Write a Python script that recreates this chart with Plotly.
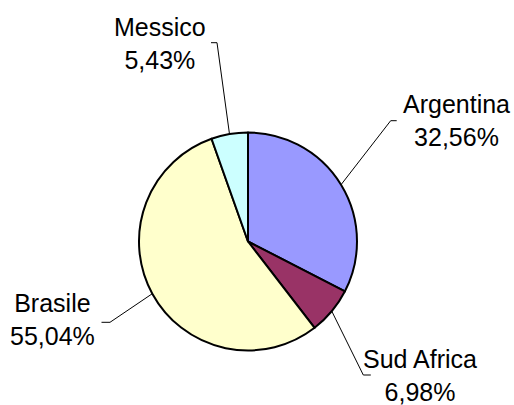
import math
import plotly.graph_objects as go

# ---- data ----
countries = ["Argentina", "Sud Africa", "Brasile", "Messico"]
shares = [32.56, 6.98, 55.04, 5.43]
colors = ["#9999FF", "#993366", "#FFFFCC", "#CCFFFF"]

# ---- layout constants (pixels) ----
W, H = 514, 405
CX, CY, R = 248, 241.5, 109
# elbow of leader line (inner end of the short horizontal tick), tick length, text centre
label_layout = {
    "Argentina": {"elbow": (390.7, 120.7), "tick": 6, "text": (456, 120)},
    "Sud Africa": {"elbow": (363.3, 375), "tick": 7.5, "text": (420, 375)},
    "Brasile": {"elbow": (110, 322.3), "tick": -8.5, "text": (52, 319)},
    "Messico": {"elbow": (217, 42.7), "tick": -6, "text": (160, 43.5)},
}

def px(x):
    return x / W

def py(y):
    return 1 - y / H

fig = go.Figure(go.Pie(
    labels=countries,
    values=shares,
    sort=False,
    direction="clockwise",
    rotation=0,
    marker=dict(colors=colors, line=dict(color="black", width=2)),
    textinfo="none",
    hoverinfo="label+percent",
    showlegend=False,
    domain=dict(x=[px(CX - R), px(CX + R)], y=[py(CY + R), py(CY - R)]),
))

total = sum(shares)
cum = 0.0
shapes = []
annotations = []
for name, v in zip(countries, shares):
    mid = (cum + v / 2) / total * 2 * math.pi
    cum += v
    ex = CX + R * math.sin(mid)
    ey = CY - R * math.cos(mid)
    lay = label_layout[name]
    bx, by = lay["elbow"]
    tx = bx + lay["tick"]
    shapes.append(dict(
        type="path", xref="paper", yref="paper",
        path=f"M {px(ex)} {py(ey)} L {px(bx)} {py(by)} L {px(tx)} {py(by)}",
        line=dict(color="black", width=1),
    ))
    pct = f"{v:.2f}".replace(".", ",") + "%"
    lx, ly = lay["text"]
    annotations.append(dict(
        x=px(lx), y=py(ly), xref="paper", yref="paper",
        text=f"{name}<br>{pct}", showarrow=False,
        xanchor="center", yanchor="middle", align="center",
        font=dict(family="Liberation Sans, Arial, sans-serif", size=25, color="black"),
    ))

fig.update_layout(
    width=W, height=H,
    margin=dict(l=0, r=0, t=0, b=0),
    paper_bgcolor="white",
    plot_bgcolor="white",
    shapes=shapes,
    annotations=annotations,
)

fig.write_html(
    "out.html",
    config={"displayModeBar": False},
    post_script="document.body.style.margin='0';document.body.style.overflow='hidden';",
)
